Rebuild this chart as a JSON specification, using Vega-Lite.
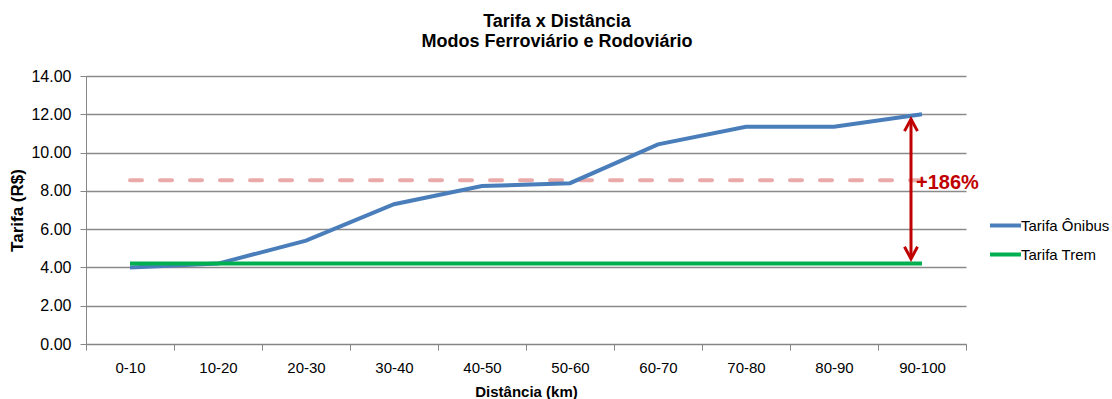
{
  "$schema": "https://vega.github.io/schema/vega-lite/v6.json",
  "autosize": {"type": "none"},
  "padding": {"left": 86, "top": 76, "right": 146, "bottom": 55},
  "width": 880,
  "height": 268,
  "background": "white",
  "title": {
    "text": ["Tarifa x Distância", "Modos Ferroviário e Rodoviário"],
    "font": "Liberation Sans, Arial, sans-serif",
    "fontSize": 18,
    "fontWeight": "bold",
    "color": "#000000",
    "anchor": "middle",
    "dx": 31,
    "offset": 17,
    "lineHeight": 20
  },
  "config": {
    "view": {"stroke": null},
    "font": "Liberation Sans, Arial, sans-serif"
  },
  "data": {
    "values": [
      {"dist": "0-10", "serie": "Tarifa Ônibus", "tarifa": 4.0},
      {"dist": "10-20", "serie": "Tarifa Ônibus", "tarifa": 4.2},
      {"dist": "20-30", "serie": "Tarifa Ônibus", "tarifa": 5.4},
      {"dist": "30-40", "serie": "Tarifa Ônibus", "tarifa": 7.3},
      {"dist": "40-50", "serie": "Tarifa Ônibus", "tarifa": 8.25},
      {"dist": "50-60", "serie": "Tarifa Ônibus", "tarifa": 8.4},
      {"dist": "60-70", "serie": "Tarifa Ônibus", "tarifa": 10.43},
      {"dist": "70-80", "serie": "Tarifa Ônibus", "tarifa": 11.35},
      {"dist": "80-90", "serie": "Tarifa Ônibus", "tarifa": 11.35},
      {"dist": "90-100", "serie": "Tarifa Ônibus", "tarifa": 12.0},
      {"dist": "0-10", "serie": "Tarifa Trem", "tarifa": 4.2},
      {"dist": "10-20", "serie": "Tarifa Trem", "tarifa": 4.2},
      {"dist": "20-30", "serie": "Tarifa Trem", "tarifa": 4.2},
      {"dist": "30-40", "serie": "Tarifa Trem", "tarifa": 4.2},
      {"dist": "40-50", "serie": "Tarifa Trem", "tarifa": 4.2},
      {"dist": "50-60", "serie": "Tarifa Trem", "tarifa": 4.2},
      {"dist": "60-70", "serie": "Tarifa Trem", "tarifa": 4.2},
      {"dist": "70-80", "serie": "Tarifa Trem", "tarifa": 4.2},
      {"dist": "80-90", "serie": "Tarifa Trem", "tarifa": 4.2},
      {"dist": "90-100", "serie": "Tarifa Trem", "tarifa": 4.2},
      {"dist": "0-10", "serie": "Média", "tarifa": 8.55},
      {"dist": "10-20", "serie": "Média", "tarifa": 8.55},
      {"dist": "20-30", "serie": "Média", "tarifa": 8.55},
      {"dist": "30-40", "serie": "Média", "tarifa": 8.55},
      {"dist": "40-50", "serie": "Média", "tarifa": 8.55},
      {"dist": "50-60", "serie": "Média", "tarifa": 8.55},
      {"dist": "60-70", "serie": "Média", "tarifa": 8.55},
      {"dist": "70-80", "serie": "Média", "tarifa": 8.55},
      {"dist": "80-90", "serie": "Média", "tarifa": 8.55},
      {"dist": "90-100", "serie": "Média", "tarifa": 8.55}
    ]
  },
  "encoding": {
    "x": {
      "field": "dist",
      "type": "nominal",
      "sort": null,
      "scale": {"type": "band", "paddingInner": 0, "paddingOuter": 0},
      "axis": {
        "title": "Distância (km)",
        "titleFontSize": 15,
        "titleFontWeight": "bold",
        "titleColor": "#000000",
        "titlePadding": 9,
        "labelAngle": 0,
        "labelFontSize": 15,
        "labelColor": "#000000",
        "labelPadding": 10,
        "tickBand": "extent",
        "tickSize": 6,
        "tickColor": "#868686",
        "domainColor": "#868686",
        "domainWidth": 1,
        "grid": false
      }
    },
    "y": {
      "field": "tarifa",
      "type": "quantitative",
      "scale": {"domain": [0, 14], "nice": false},
      "axis": {
        "title": "Tarifa (R$)",
        "titleFontSize": 17,
        "titleFontWeight": "bold",
        "titleColor": "#000000",
        "titlePadding": 4,
        "values": [0, 2, 4, 6, 8, 10, 12, 14],
        "format": ".2f",
        "labelFontSize": 16,
        "labelColor": "#000000",
        "labelPadding": 9,
        "tickSize": 6,
        "tickColor": "#868686",
        "domainColor": "#868686",
        "grid": true,
        "gridColor": "#8a8a8a",
        "gridWidth": 1.3
      }
    }
  },
  "layer": [
    {
      "transform": [{"filter": "datum.serie === 'Média'"}],
      "mark": {"type": "line", "color": "#EAAAAA", "strokeWidth": 4, "strokeDash": [12, 18], "strokeCap": "round"}
    },
    {
      "transform": [{"filter": "datum.serie !== 'Média'"}],
      "mark": {"type": "line", "strokeWidth": 4},
      "encoding": {
        "color": {
          "field": "serie",
          "type": "nominal",
          "scale": {"domain": ["Tarifa Ônibus", "Tarifa Trem"], "range": ["#4A7EBB", "#00B050"]},
          "legend": {
            "title": null,
            "orient": "none",
            "legendX": 902,
            "legendY": 132,
            "padding": 0,
            "symbolType": "stroke",
            "symbolSize": 961,
            "symbolStrokeWidth": 4,
            "labelFontSize": 15,
            "labelColor": "#000000",
            "labelOffset": -2,
            "rowPadding": 3
          }
        }
      }
    },
    {
      "data": {"values": [{"top": 11.75, "bottom": 4.45}]},
      "mark": {"type": "rule", "color": "#C00000", "strokeWidth": 3, "xOffset": -11},
      "encoding": {
        "x": {"datum": "90-100"},
        "y": {"field": "top", "type": "quantitative"},
        "y2": {"field": "bottom"}
      }
    },
    {
      "data": {"values": [{"v": 11.75, "dir": "up"}, {"v": 4.45, "dir": "down"}]},
      "mark": {"type": "point", "filled": false, "color": "#C00000", "strokeWidth": 3, "size": 169, "xOffset": -11, "opacity": 1, "strokeJoin": "miter"},
      "encoding": {
        "x": {"datum": "90-100"},
        "y": {"field": "v", "type": "quantitative"},
        "shape": {
          "field": "dir",
          "type": "nominal",
          "scale": {"domain": ["up", "down"], "range": ["M-1,1.85L0,0L1,1.85", "M-1,-1.85L0,0L1,-1.85"]},
          "legend": null
        }
      }
    },
    {
      "data": {"values": [{"lbl": "+186%", "v": 8.4}]},
      "mark": {"type": "text", "color": "#C00000", "font": "Liberation Sans, Arial, sans-serif", "fontSize": 20, "fontWeight": "bold", "align": "left", "baseline": "middle", "dx": -6},
      "encoding": {
        "x": {"datum": "90-100"},
        "y": {"field": "v", "type": "quantitative"},
        "text": {"field": "lbl"}
      }
    }
  ]
}
